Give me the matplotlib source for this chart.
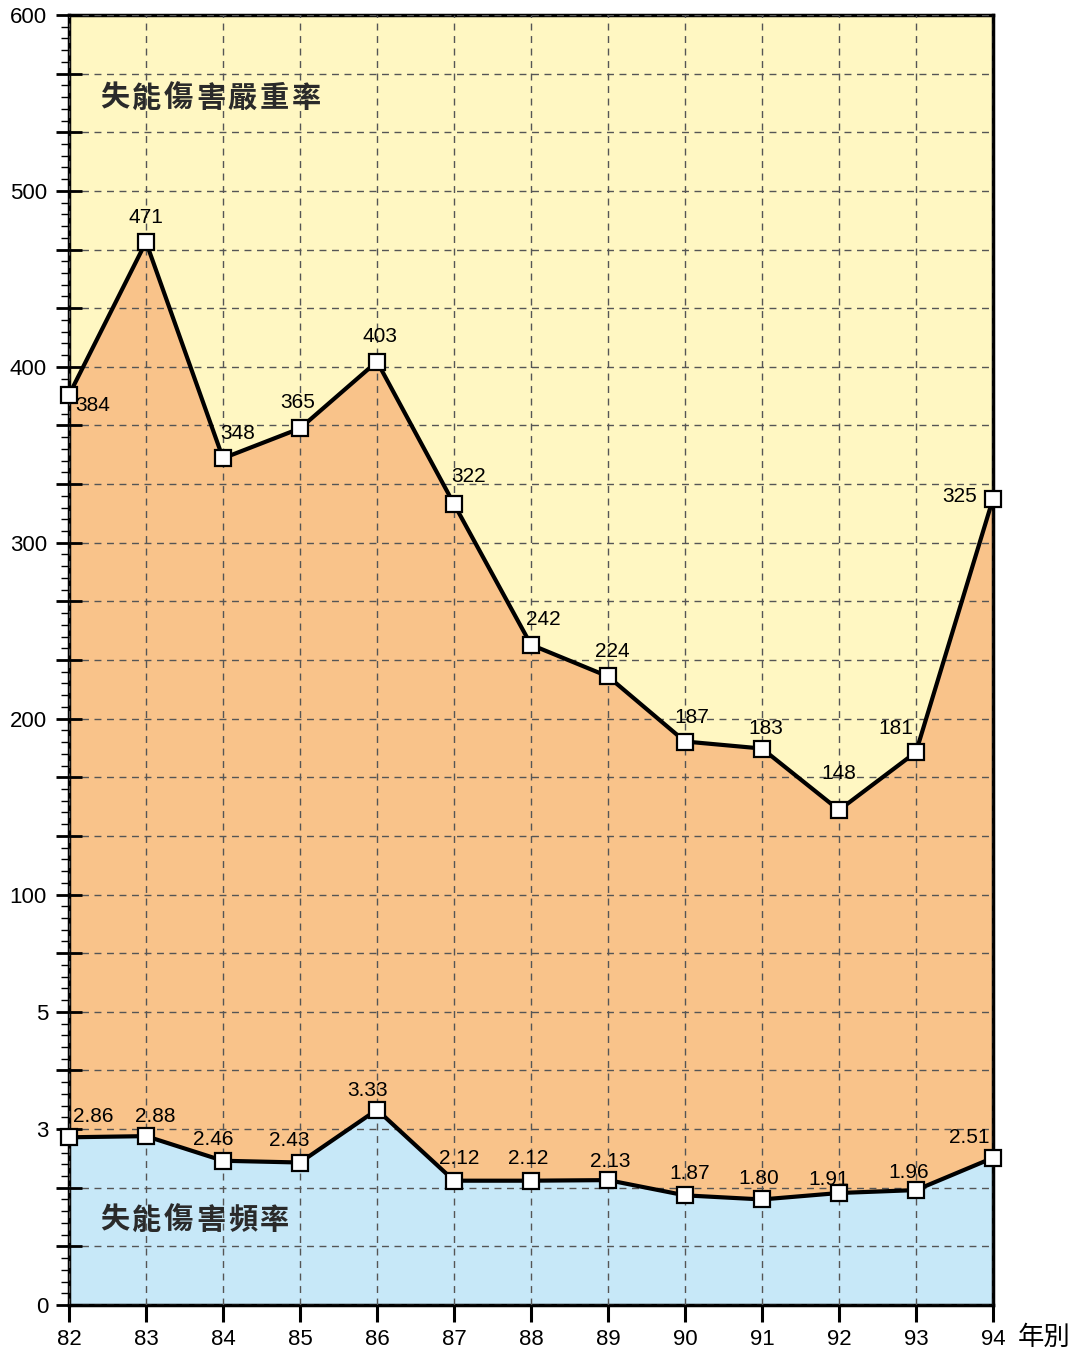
import matplotlib.pyplot as plt
import numpy as np
from matplotlib.ticker import FixedLocator, MultipleLocator

plt.rcParams['font.family'] = ['Liberation Sans', 'Noto Sans CJK TC']

YEARS = [82, 83, 84, 85, 86, 87, 88, 89, 90, 91, 92, 93, 94]
SEVERITY = [384, 471, 348, 365, 403, 322, 242, 224, 187, 183, 148, 181, 325]
FREQUENCY = [2.86, 2.88, 2.46, 2.43, 3.33, 2.12, 2.12, 2.13, 1.87, 1.80,
             1.91, 1.96, 2.51]
FREQ_TICKS = [0, 3, 5]
SEV_TICKS = [100, 200, 300, 400, 500, 600]
SEV_TITLE = '失能傷害嚴重率'
FREQ_TITLE = '失能傷害頻率'
X_TITLE = '年別'

# label offsets from the marker, in pixels (dx, dy up)
SEV_OFFSETS = [(24, -11), (0, 24), (15, 25), (-2, 26), (3, 25), (15, 28),
               (12, 25), (4, 25), (7, 24), (4, 20), (0, 37), (-20, 24),
               (-33, 2)]
FREQ_OFFSETS = [(24, 21), (9, 20), (-10, 21), (-11, 22), (-9, 19), (5, 22),
                (-3, 22), (2, 19), (5, 22), (-3, 21), (-10, 14), (-7, 18),
                (-24, 20)]

YELLOW = '#FFF7C2'
ORANGE = '#F9C38A'
BLUE = '#C7E8F8'


def spaced_title(ax, text, x, y, step=0.0345):
    # characters set one by one, the original has wide letter spacing
    for i, ch in enumerate(text):
        ax.text(x + i * step, y, ch, transform=ax.transAxes, fontsize=21,
                family='Noto Sans CJK TC', fontweight='bold',
                color='#2a2a2a', va='center', ha='left', zorder=6)


def main():
    fig = plt.figure(figsize=(10.81, 13.53), dpi=100)
    ax = fig.add_axes([69 / 1081, 48 / 1353, 924 / 1081, 1290 / 1353])
    sv = ax.twinx()

    # 22 grid rows: frequency 0..5 in the bottom rows,
    # severity 100..600 over the top 15 rows
    ax.set_ylim(0, 22)
    span = (SEV_TICKS[-1] - SEV_TICKS[0]) / 15
    sv.set_ylim(SEV_TICKS[0] - 7 * span, SEV_TICKS[-1])
    ax.set_xlim(YEARS[0], YEARS[-1])

    ax.set_facecolor(YELLOW)
    ax.fill_between(YEARS, sv.get_ylim()[0], SEVERITY, color=ORANGE,
                    linewidth=0, zorder=1, transform=sv.transData)
    ax.fill_between(YEARS, 0, FREQUENCY, color=BLUE, linewidth=0, zorder=1.2)
    ax.set_ylim(0, 22)

    ax.set_axisbelow(False)
    ax.grid(True, which='major', linestyle=(0, (5, 4)), color='#555555',
            linewidth=1)

    style = dict(color='black', linewidth=3, marker='s', markersize=11.5,
                 markerfacecolor='white', markeredgecolor='black',
                 markeredgewidth=1.6, clip_on=False, zorder=3)
    ax.plot(YEARS, FREQUENCY, **style)
    sv.plot(YEARS, SEVERITY, **style)

    for x, v, off in zip(YEARS, FREQUENCY, FREQ_OFFSETS):
        ax.annotate(f'{v:.2f}', (x, v), xytext=off, textcoords='offset pixels',
                    ha='center', va='center', fontsize=15, zorder=5)
    for x, v, off in zip(YEARS, SEVERITY, SEV_OFFSETS):
        sv.annotate(str(v), (x, v), xytext=off, textcoords='offset pixels',
                    ha='center', va='center', fontsize=15, zorder=5)

    # ticks
    ax.yaxis.set_major_locator(FixedLocator(np.arange(0, 23)))
    ax.yaxis.set_major_formatter(
        lambda v, p: str(int(round(v))) if round(v) in FREQ_TICKS else '')
    ax.yaxis.set_minor_locator(MultipleLocator(0.2))
    ax.tick_params(axis='y', which='major', direction='inout', length=19,
                   width=2, labelsize=16, pad=5)
    ax.tick_params(axis='y', which='minor', direction='out', length=6,
                   width=1)
    ax.set_xticks(YEARS)
    ax.tick_params(axis='x', direction='out', length=12, width=2.2,
                   labelsize=16, pad=5)

    sv.set_yticks(SEV_TICKS)
    sv.yaxis.set_ticks_position('left')
    sv.tick_params(axis='y', length=0, pad=16, labelsize=16,
                   labelleft=True, labelright=False)

    for s in ax.spines.values():
        s.set_linewidth(2.5)
    for s in sv.spines.values():
        s.set_visible(False)

    spaced_title(ax, SEV_TITLE, 0.034, 0.936)
    spaced_title(ax, FREQ_TITLE, 0.034, 0.066)
    fig.text(1044 / 1081, 1 - 1337 / 1353, X_TITLE, fontsize=19,
             family='Noto Sans CJK TC', ha='center', va='center')

    fig.savefig('out.png', dpi=100)


if __name__ == '__main__':
    main()
